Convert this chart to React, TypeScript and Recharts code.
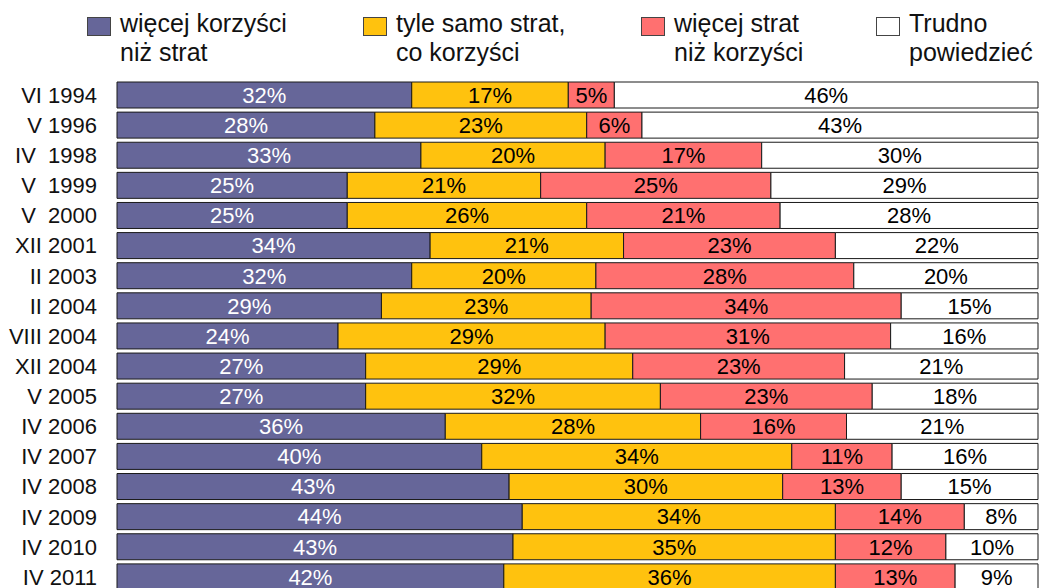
import { Bar, BarChart, LabelList, XAxis, YAxis } from "recharts";

const periods = [
  "VI 1994",
  "V 1996",
  "IV\u00a0\u00a01998",
  "V\u00a0\u00a01999",
  "V\u00a0\u00a02000",
  "XII 2001",
  "II 2003",
  "II 2004",
  "VIII 2004",
  "XII 2004",
  "V 2005",
  "IV 2006",
  "IV 2007",
  "IV 2008",
  "IV 2009",
  "IV 2010",
  "IV 2011"
];

const moreBenefits = [32, 28, 33, 25, 25, 34, 32, 29, 24, 27, 27, 36, 40, 43, 44, 43, 42];
const equal = [17, 23, 20, 21, 26, 21, 20, 23, 29, 29, 32, 28, 34, 30, 34, 35, 36];
const moreLosses = [5, 6, 17, 25, 21, 23, 28, 34, 31, 23, 23, 16, 11, 13, 14, 12, 13];
const hardToSay = [46, 43, 30, 29, 28, 22, 20, 15, 16, 21, 18, 21, 16, 15, 8, 10, 9];

const series = [
  { key: "more", label: ["więcej korzyści", "niż strat"], fill: "#666699", text: "#ffffff" },
  { key: "equal", label: ["tyle samo strat,", "co korzyści"], fill: "#ffc20e", text: "#000000" },
  { key: "loss", label: ["więcej strat", "niż korzyści"], fill: "#ff7070", text: "#000000" },
  { key: "hard", label: ["Trudno", "powiedzieć"], fill: "#ffffff", text: "#000000" }
];

const data = periods.map((name, i) => ({
  name,
  more: moreBenefits[i],
  equal: equal[i],
  loss: moreLosses[i],
  hard: hardToSay[i]
}));

// legend squares sit at uneven spots in the original
const legendX = [87, 363, 641, 876];

function Legend() {
  return (
    <>
      {series.map((s, i) => (
        <div
          key={s.key}
          style={{ position: "absolute", left: legendX[i], top: 9, display: "flex" }}
        >
          <div
            style={{
              width: 22,
              height: 17,
              marginTop: 8,
              background: s.fill,
              border: "1px solid #444"
            }}
          />
          <div style={{ marginLeft: 9, fontSize: 25, lineHeight: "29px", color: "#111" }}>
            {s.label[0]}
            <br />
            {s.label[1]}
          </div>
        </div>
      ))}
    </>
  );
}

export default function App() {
  return (
    <div
      style={{
        position: "absolute",
        left: 0,
        top: 0,
        width: 1039,
        height: 588,
        overflow: "hidden",
        background: "#fff",
        fontFamily: "'Liberation Sans', Arial, sans-serif"
      }}
    >
      <Legend />
      <BarChart
        width={1039}
        height={592}
        data={data}
        layout="vertical"
        stackOffset="expand"
        barSize={26}
        margin={{ top: 80, right: 1, left: 0, bottom: 0 }}
      >
        <XAxis type="number" hide domain={[0, 1]} />
        <YAxis
          type="category"
          dataKey="name"
          width={117}
          axisLine={false}
          tickLine={false}
          tickMargin={14}
          interval={0}
          tick={{ fontSize: 22, fill: "#111" }}
        />
        {series.map((s) => (
          <Bar
            key={s.key}
            dataKey={s.key}
            stackId="a"
            fill={s.fill}
            stroke="#1a1a1a"
            strokeWidth={1}
            isAnimationActive={false}
          >
            <LabelList
              dataKey={s.key}
              position="center"
              formatter={(v: number) => `${v}%`}
              fill={s.text}
              fontSize={22}
            />
          </Bar>
        ))}
      </BarChart>
    </div>
  );
}
